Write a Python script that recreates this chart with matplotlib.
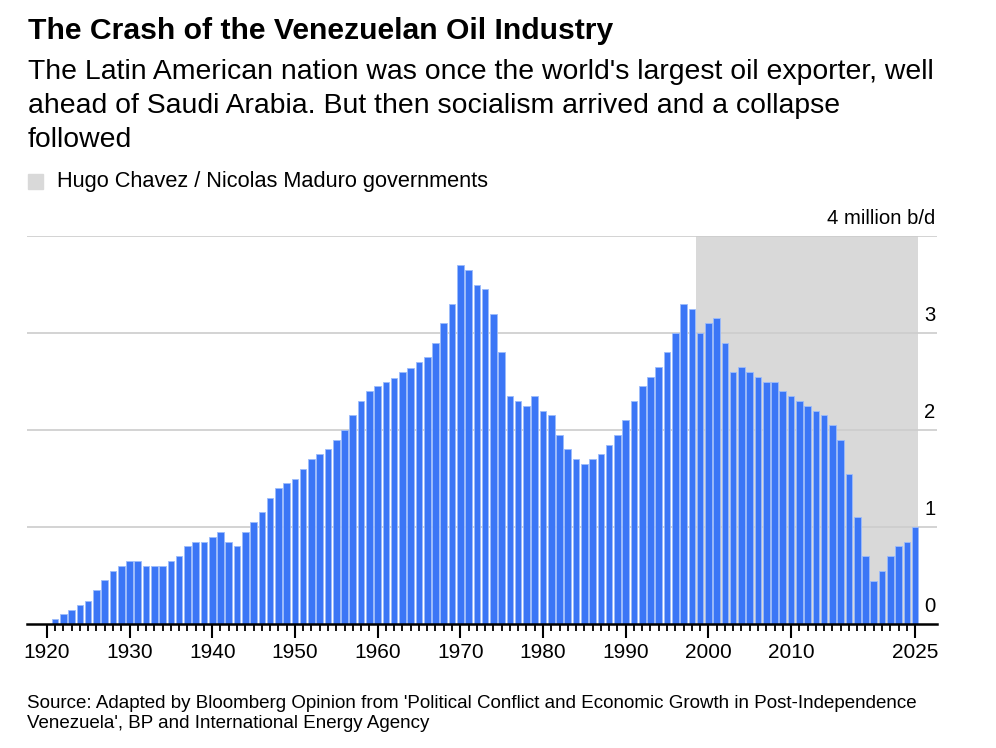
import matplotlib
matplotlib.use("Agg")
import matplotlib.pyplot as plt
from matplotlib.patches import Rectangle

years = list(range(1920, 2026))
production = [
    0.0, 0.05, 0.10, 0.14, 0.20, 0.24, 0.35, 0.45, 0.55, 0.60,   # 1920-1929
    0.65, 0.65, 0.60, 0.60, 0.60, 0.65, 0.70, 0.80, 0.85, 0.85,  # 1930-1939
    0.90, 0.95, 0.85, 0.80, 0.95, 1.05, 1.15, 1.30, 1.40, 1.45,  # 1940-1949
    1.50, 1.60, 1.70, 1.75, 1.80, 1.90, 2.00, 2.15, 2.30, 2.40,  # 1950-1959
    2.45, 2.50, 2.54, 2.60, 2.64, 2.70, 2.75, 2.90, 3.10, 3.30,  # 1960-1969
    3.70, 3.65, 3.50, 3.45, 3.20, 2.80, 2.35, 2.30, 2.25, 2.35,  # 1970-1979
    2.20, 2.15, 1.95, 1.80, 1.70, 1.65, 1.70, 1.75, 1.85, 1.95,  # 1980-1989
    2.10, 2.30, 2.45, 2.55, 2.65, 2.80, 3.00, 3.30, 3.25, 3.00,  # 1990-1999
    3.10, 3.15, 2.90, 2.60, 2.65, 2.60, 2.55, 2.50, 2.50, 2.40,  # 2000-2009
    2.35, 2.30, 2.25, 2.20, 2.15, 2.05, 1.90, 1.55, 1.10, 0.70,  # 2010-2019
    0.44, 0.55, 0.70, 0.80, 0.85, 1.00,                          # 2020-2025
]
shade_start, shade_end = 1998.5, 2025.4
xtick_labels = ["1920", "1930", "1940", "1950", "1960", "1970", "1980",
                "1990", "2000", "2010", "2025"]
ytick_vals = [0, 1, 2, 3, 4]
ytick_labels = ["0", "1", "2", "3", "4 million b/d"]
title = "The Crash of the Venezuelan Oil Industry"
subtitle_lines = [
    "The Latin American nation was once the world's largest oil exporter, well",
    "ahead of Saudi Arabia. But then socialism arrived and a collapse",
    "followed",
]
legend_label = "Hugo Chavez / Nicolas Maduro governments"
source_lines = [
    "Source: Adapted by Bloomberg Opinion from 'Political Conflict and Economic Growth in Post-Independence",
    "Venezuela', BP and International Energy Agency",
]

plt.rcParams['font.family'] = ['Liberation Sans', 'DejaVu Sans']

W, H = 996, 748
fig = plt.figure(figsize=(W / 100, H / 100), dpi=100)
fig.patch.set_facecolor("white")

ax = fig.add_axes([27 / W, 1 - 624 / H, (937 - 27) / W, (624 - 236) / H])
ax.set_xlim(1917.6, 2027.65)
ax.set_ylim(0, 4)

ax.axvspan(shade_start, shade_end, color="#d9d9d9", zorder=0, lw=0)
for v in ytick_vals[1:]:
    ax.axhline(v, color="#cccccc", lw=1.2, zorder=1)

ax.bar(years, production, width=0.8, color="#3b76f6", edgecolor="#9dbcfb",
       linewidth=0.6, zorder=2)

for s in ["top", "right", "left"]:
    ax.spines[s].set_visible(False)
ax.spines["bottom"].set_color("black")
ax.spines["bottom"].set_linewidth(1.8)
ax.spines["bottom"].set_zorder(3)

major_pos = [int(t) for t in xtick_labels]
ax.set_xticks(major_pos)
ax.set_xticklabels(xtick_labels)
ax.set_xticks([y for y in years if y not in major_pos], minor=True)
ax.tick_params(axis="x", which="major", length=10, width=1.5, color="black",
               labelsize=15, pad=4, labelcolor="black")
ax.tick_params(axis="x", which="minor", length=5, width=1.3, color="black")
ax.set_yticks([])

for v, lab in zip(ytick_vals, ytick_labels):
    ax.annotate(lab, xy=(1, v), xycoords=("axes fraction", "data"),
                xytext=(-1, 6), textcoords="offset points",
                ha="right", va="bottom", fontsize=14.6, color="black")

fig.text(28 / W, 1 - 31 / H, title,
         fontsize=21.7, fontweight="bold", ha="left", va="center")
for i, line in enumerate(subtitle_lines):
    fig.text(28 / W, 1 - (72 + 34 * i) / H, line,
             fontsize=20.4, ha="left", va="center")

fig.patches.append(Rectangle((28 / W, 1 - 189 / H), 15 / W, 15 / H,
                             transform=fig.transFigure, color="#d9d9d9"))
fig.text(57 / W, 1 - 181 / H, legend_label,
         fontsize=15.7, ha="left", va="center")

for i, line in enumerate(source_lines):
    fig.text(27 / W, 1 - (703 + 21 * i) / H, line,
             fontsize=13.5, ha="left", va="center", color="black")

fig.savefig("out.png", dpi=100)
